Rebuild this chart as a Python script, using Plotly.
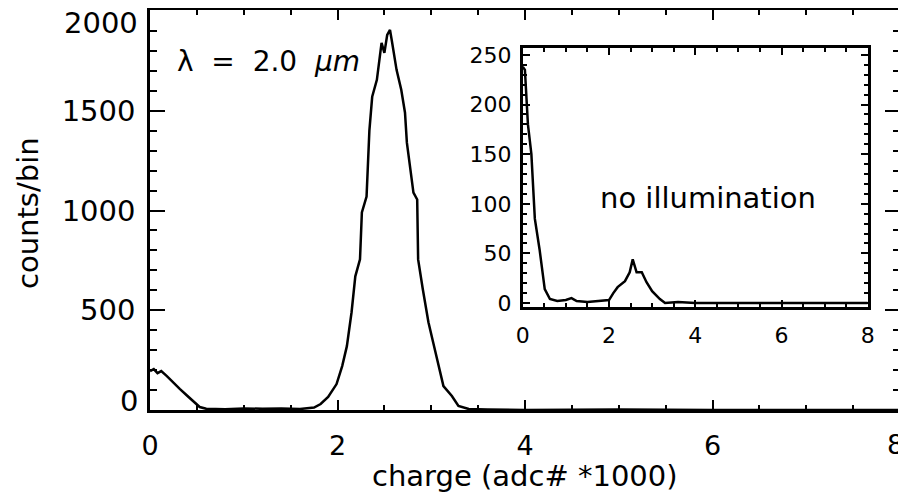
import plotly.graph_objects as go

# Main histogram (lambda = 2.0 um)
main_charge = [0.00, 0.04, 0.08, 0.12, 0.18, 0.25, 0.32, 0.40, 0.46, 0.53, 0.60, 0.80, 1.00,
               1.20, 1.40, 1.60, 1.75, 1.82, 1.90, 1.99, 2.05, 2.10, 2.15, 2.19, 2.24, 2.26,
               2.31, 2.34, 2.37, 2.42, 2.47, 2.50, 2.53, 2.56, 2.58, 2.63, 2.68, 2.72, 2.74,
               2.81, 2.85, 2.86, 2.91, 2.97, 3.02, 3.07, 3.13, 3.22, 3.29, 3.40, 3.60, 4.00,
               5.00, 6.00, 7.00, 8.00]
main_counts = [195, 205, 185, 195, 170, 140, 105, 70, 45, 15, 6, 4, 8,
               6, 8, 5, 12, 30, 65, 130, 220, 320, 490, 670, 755, 990,
               1070, 1400, 1570, 1655, 1840, 1790, 1880, 1905, 1850, 1705, 1605, 1490, 1340,
               1090, 1055, 755, 605, 440, 340, 240, 120, 70, 20, 5, 2, 0,
               2, 0, 1, 0]

# Inset histogram (no illumination)
inset_charge = [0.00, 0.05, 0.12, 0.20, 0.28, 0.39, 0.51, 0.63, 0.80, 1.00, 1.13, 1.25, 1.50,
                1.80, 2.00, 2.10, 2.20, 2.37, 2.48, 2.55, 2.64, 2.76, 2.87, 3.00, 3.18, 3.30,
                3.60, 4.00, 5.00, 6.00, 7.00, 8.00]
inset_counts = [238, 235, 180, 150, 85, 54, 14, 4, 2, 3, 5, 2, 1,
                2, 3, 10, 16, 22, 31, 44, 31, 31, 21, 12, 4, 0,
                1, 0, 0, 0, 0, 0]

main_xticks = [0, 2, 4, 6, 8]
main_xticktext = ["0", "2", "4", "6", ""]
main_yticks = [0, 500, 1000, 1500, 2000]
main_yticktext = ["", "500", "1000", "1500", ""]
inset_xticks = [0, 2, 4, 6, 8]
inset_yticks = [0, 50, 100, 150, 200, 250]

FONT = "DejaVu Sans"

fig = go.Figure()
fig.add_trace(go.Scatter(x=main_charge, y=main_counts, mode="lines",
                         line=dict(color="black", width=2.5), xaxis="x", yaxis="y",
                         showlegend=False))
fig.add_trace(go.Scatter(x=inset_charge, y=inset_counts, mode="lines",
                         line=dict(color="black", width=2.5), xaxis="x2", yaxis="y2",
                         showlegend=False))

common = dict(showline=True, linecolor="black", linewidth=2.5, mirror="ticks",
              ticks="inside", tickcolor="black", tickwidth=2, showgrid=False,
              zeroline=False, automargin=False)

fig.update_layout(
    width=898, height=488,
    margin=dict(l=142, r=6, t=2, b=86, autoexpand=False),
    paper_bgcolor="white", plot_bgcolor="white",
    font=dict(family=FONT, color="black", size=28),
    xaxis=dict(range=[0, 8], tickvals=main_xticks, ticktext=main_xticktext, ticklen=10,
               minor=dict(dtick=0.5, ticks="inside", ticklen=5, tickcolor="black", tickwidth=2),
               tickfont=dict(size=27), ticklabelstandoff=10, **common),
    yaxis=dict(range=[0, 2005], tickvals=main_yticks, ticktext=main_yticktext, ticklen=15,
               minor=dict(dtick=100, ticks="inside", ticklen=7, tickcolor="black", tickwidth=2),
               tickfont=dict(size=29), ticklabelstandoff=6, **common),
    xaxis2=dict(domain=[0.497, 0.957], anchor="y2", range=[0, 8], tickvals=inset_xticks,
                ticklen=7, minor=dict(dtick=0.5, ticks="inside", ticklen=4, tickcolor="black", tickwidth=2),
                tickfont=dict(size=22), ticklabelstandoff=7, **common),
    yaxis2=dict(domain=[0.2575, 0.905], anchor="x2", range=[-4, 257], tickvals=inset_yticks,
                ticklen=7, minor=dict(dtick=10, ticks="inside", ticklen=4, tickcolor="black", tickwidth=2),
                tickfont=dict(size=22), ticklabelstandoff=4, **common),
    annotations=[
        dict(text="2000", x=-0.0133, y=1940, xref="paper", yref="y",
             xanchor="right", yanchor="middle", showarrow=False, font=dict(size=29)),
        dict(text="0", x=-0.0133, y=45, xref="paper", yref="y",
             xanchor="right", yanchor="middle", showarrow=False, font=dict(size=29)),
        dict(text="8", x=7.95, y=-0.0875, xref="x", yref="paper",
             xanchor="center", yanchor="middle", showarrow=False, font=dict(size=27)),
        dict(text="λ  =  2.0  <i>μm</i>", x=0.267, y=1745, xref="x", yref="y",
             xanchor="left", yanchor="middle", showarrow=False, font=dict(size=28)),
        dict(text="no illumination", x=4.29, y=106, xref="x2", yref="y2",
             xanchor="center", yanchor="middle", showarrow=False, font=dict(size=29)),
        dict(text="charge (adc# *1000)", x=0.5, y=-0.165, xref="paper", yref="paper",
             xanchor="center", yanchor="middle", showarrow=False, font=dict(size=29)),
        dict(text="counts/bin", x=-0.1627, y=0.4925, xref="paper", yref="paper",
             xanchor="center", yanchor="middle", showarrow=False, textangle=-90,
             font=dict(size=29)),
    ],
)

fig.write_html("out.html")
